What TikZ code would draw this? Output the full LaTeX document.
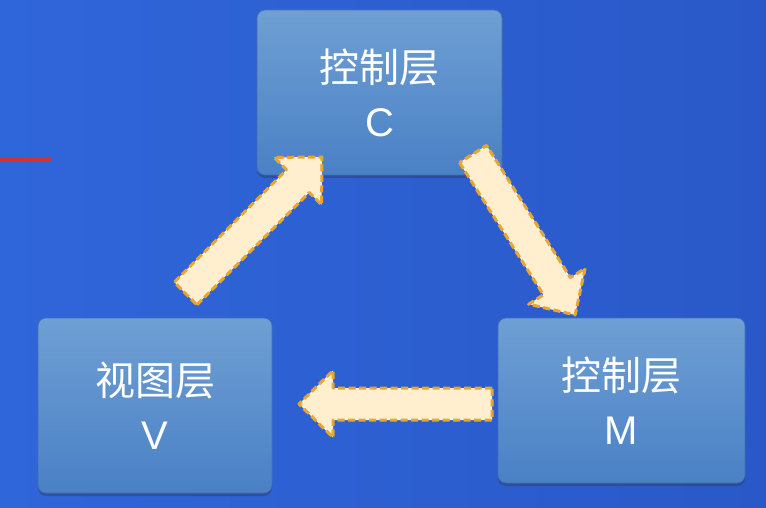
\documentclass[tikz,border=0pt]{standalone}
\usepackage{fontspec}
\setmainfont{Liberation Sans}
\newfontfamily\cjk{Noto Sans CJK SC}
\usetikzlibrary{shadows}
\definecolor{bgL}{HTML}{2F66DA}
\definecolor{bgR}{HTML}{2A58C8}
\definecolor{boxT}{HTML}{6F9FD3}
\definecolor{boxB}{HTML}{4A81C6}
\definecolor{boxE}{HTML}{3F6FB0}
\definecolor{arrFill}{HTML}{FFEFCF}
\definecolor{arrEdge}{HTML}{E9A530}
\definecolor{redline}{HTML}{D8302E}
\tikzset{
  box/.style={rounded corners=8, top color=boxT, bottom color=boxB, draw=boxE, line width=0.6,
    text=white, align=center, font=\fontsize{40}{54}\selectfont, inner sep=0,
    drop shadow={shadow xshift=0, shadow yshift=-3, opacity=0.35, fill=black!80}},
  blockarr/.style={fill=arrFill, draw=arrEdge, line width=3, dash pattern=on 7 off 3.5, line join=round}
}
\newcommand\blockarrow[3]{% start coordinate, angle, length
  \begin{scope}[shift={(#1)},rotate=#2]
    \path[blockarr] (0,-16) -- ({#3-34},-16) -- ({#3-34},-33.5) -- (#3,0) -- ({#3-34},33.5) -- ({#3-34},16) -- (0,16) -- cycle;
  \end{scope}}
\begin{document}
\begin{tikzpicture}[x=1pt,y=1pt]
\shade[left color=bgL,right color=bgR] (0,0) rectangle (766,507);
\useasboundingbox (0,0) rectangle (766,507);
\fill[redline] (0,345.5) rectangle (51,349.5);
\node[box, minimum width=245, minimum height=165] (C) at (379.5,414.5) {{\cjk 控制层}\\C};
\node[box, minimum width=234, minimum height=175] (V) at (155,101.5) {{\cjk 视图层}\\V};
\node[box, minimum width=247, minimum height=165] (M) at (621.5,106.5) {{\cjk 控制层}\\M};
\coordinate (a1) at (185.5,213.5);
\coordinate (a2) at (473,353);
\coordinate (a3) at (492,103);
\blockarrow{a1}{45}{193}
\blockarrow{a2}{-57.6}{190.6}
\blockarrow{a3}{180}{193}
\end{tikzpicture}
\end{document}
